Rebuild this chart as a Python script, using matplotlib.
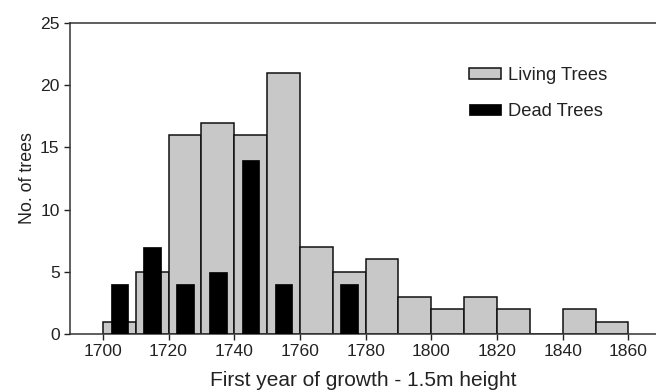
import matplotlib
matplotlib.use("Agg")
import matplotlib.pyplot as plt

plt.rcParams['font.family'] = ['Liberation Sans', 'DejaVu Sans']

living_bin_starts = [1700, 1710, 1720, 1730, 1740, 1750, 1760, 1770, 1780, 1790,
                     1800, 1810, 1820, 1830, 1840, 1850]
living_counts = [1, 5, 16, 17, 16, 21, 7, 5, 6, 3, 2, 3, 2, 0, 2, 1]

dead_centers = [1705, 1715, 1725, 1735, 1745, 1755, 1775]
dead_counts = [4, 7, 4, 5, 14, 4, 4]

x_ticks = [1700, 1720, 1740, 1760, 1780, 1800, 1820, 1840, 1860]
y_ticks = [0, 5, 10, 15, 20, 25]

fig = plt.figure(figsize=(6.56, 3.92), dpi=100)
ax = fig.add_axes([70/656, 1 - 334/392, 1 - 70/656, (334 - 23)/392])

ax.bar(living_bin_starts, living_counts, width=10, align='edge',
       color='#c8c8c8', edgecolor='#111111', linewidth=1.1, label='Living Trees', zorder=2)
ax.bar(dead_centers, dead_counts, width=5.3, align='center',
       color='#000000', edgecolor='#000000', linewidth=0.5, label='Dead Trees', zorder=3)

ax.set_xlim(1690, 1868.4)
ax.set_ylim(0, 25)
ax.set_xticks(x_ticks)
ax.set_yticks(y_ticks)
ax.tick_params(axis='both', direction='out', length=4, width=1, colors='#222222',
               labelsize=12.6, labelcolor='#222222')
for s in ['left', 'bottom', 'top']:
    ax.spines[s].set_linewidth(1.1)
    ax.spines[s].set_color('#333333')
ax.spines['right'].set_visible(False)

ax.set_xlabel('First year of growth - 1.5m height', fontsize=15, color='#222222', labelpad=8)
ax.set_ylabel('No. of trees', fontsize=12.8, color='#222222', labelpad=3)

leg = ax.legend(loc='upper left', bbox_to_anchor=((469 - 70) / 586, (334 - 67) / 311),
                frameon=False, borderpad=0, borderaxespad=0,
                fontsize=13.2, handlelength=1.75, handleheight=0.55, handletextpad=0.4,
                labelspacing=1.05)
for t in leg.get_texts():
    t.set_color('#222222')

fig.savefig('out.png', dpi=100)
